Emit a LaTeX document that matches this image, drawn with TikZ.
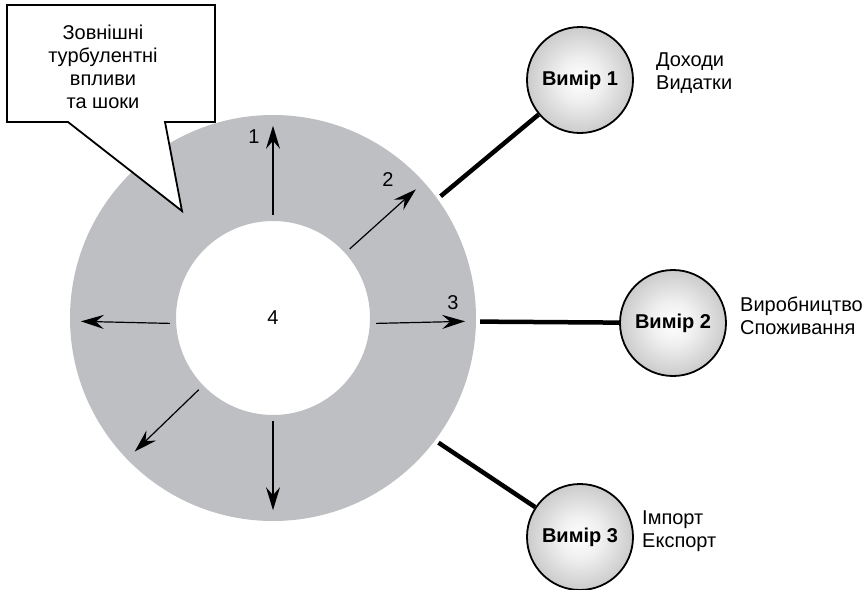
\documentclass[tikz,border=0pt]{standalone}
\usepackage{fontspec}
\setmainfont{Liberation Sans}
\usetikzlibrary{arrows.meta}
\definecolor{ringgray}{RGB}{190,191,195}
\pgfdeclareradialshading{ballshade}{\pgfpoint{0bp}{0bp}}{%
  color(0bp)=(white); color(10bp)=(gray!12); color(30bp)=(gray!50); color(50bp)=(gray!92)}
\pgfdeclarelayer{bg}
\pgfsetlayers{bg,main}
\begin{document}
\begin{tikzpicture}[x=1pt,y=-1pt,
  txt/.style={font=\fontsize{20}{23}\selectfont},
  dim/.style={circle, draw=black, line width=1.8pt, minimum size=106pt, inner sep=0pt,
    shading=ballshade, font=\bfseries\fontsize{20}{22}\selectfont},
  arr/.style={line width=1.2pt, -{Stealth[length=23pt,width=14pt,inset=8pt]}},
  link/.style={line width=4.5pt},
  lab/.style={txt, anchor=west, align=left, inner sep=0pt},
  guide/.style={circle, inner sep=0pt, draw=none}]
\useasboundingbox (0,0) rectangle (867,589);
% ring
\begin{pgfonlayer}{bg}
\fill[ringgray, even odd rule] (273,318) circle[radius=203] (273,318) circle[radius=97];
\end{pgfonlayer}
\node[guide, minimum size=206pt, txt] (core) at (273,318) {4};
\node[guide, minimum size=384pt] (reach) at (273,318) {};
\node[guide, minimum size=414pt] (rim) at (273,318) {};
% arrows
\draw[arr] (core.90) -- (reach.90);
\draw[arr] (core.42) -- (reach.42);
\draw[arr] (core.-3) -- (reach.-1.5);
\draw[arr] (core.183) -- (reach.181.5);
\draw[arr] (core.224) -- (reach.224);
\draw[arr] (core.270) -- (reach.270);
\node[txt] (n1) at (254,137) {1};
\node[txt] (n2) at (388,180) {2};
\node[txt] (n3) at (453,303) {3};
% dimension circles
\node[dim] (v1) at (580,80) {Вимір 1};
\node[dim] (v2) at (673,323) {Вимір 2};
\node[dim] (v3) at (580,537) {Вимір 3};
\begin{pgfonlayer}{bg}
\draw[link] (rim.36) -- (v1);
\draw[link] (rim.-1.5) -- (v2);
\draw[link] (rim.-37) -- (v3);
\end{pgfonlayer}
% labels
\node[lab] (l1) at (656,73) {Доходи\\Видатки};
\node[lab] (l2) at (740,316) {Виробництво\\Споживання};
\node[lab] (l3) at (642,531) {Імпорт\\Експорт};
% callout
\draw[line width=1.8pt, fill=white, line join=miter]
  (7,5) -- (215,5) -- (215,122) -- (165,122) -- (182,211) -- (68,122) -- (7,122) -- cycle;
\node[txt, align=center] (shock) at (103,67) {Зовнішні\\турбулентні\\впливи\\та шоки};
\end{tikzpicture}
\end{document}
